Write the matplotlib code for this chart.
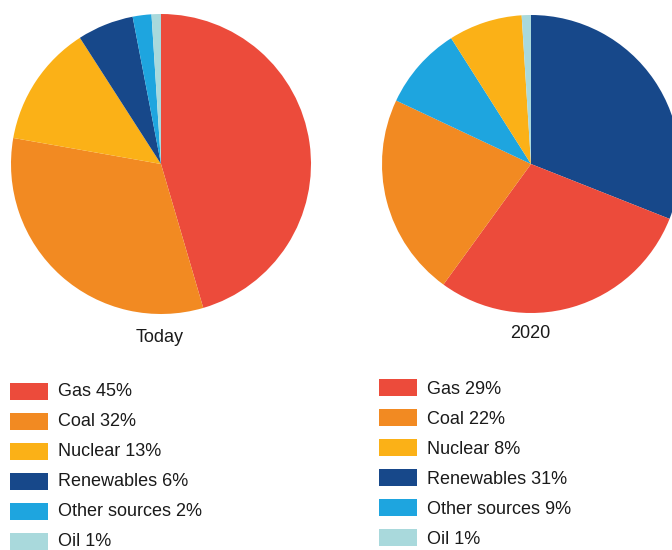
import matplotlib.pyplot as plt
from matplotlib.patches import Rectangle

# data
sources = ['Gas', 'Coal', 'Nuclear', 'Renewables', 'Other sources', 'Oil']
today = [45, 32, 13, 6, 2, 1]
y2020 = [29, 22, 8, 31, 9, 1]
colors = ['#EC4B3B', '#F28A22', '#FBB117', '#17488A', '#1EA5DF', '#A9D9DC']
titles = ['Today', '2020']

# clockwise order of the slices from 12 o'clock
order_today = [0, 1, 2, 3, 4, 5]
order_2020 = [3, 0, 1, 4, 2, 5]

plt.rcParams['font.family'] = ['Liberation Sans', 'DejaVu Sans']

fig = plt.figure(figsize=(6.72, 5.5), dpi=100)
ax = fig.add_axes([0, 0, 1, 1])

# pie centre, radius, title pos, legend top-left, legend text offset
panels = [
    (today, order_today, (161, 164), 150, (160, 338), (10, 383), 9),
    (y2020, order_2020, (531, 164), 149, (530, 333), (379, 379), 11),
]

for i, (vals, order, c, r, tpos, lpos, toff) in enumerate(panels):
    # pie in pixel coords, y axis flipped so clockwise/start angle flip too
    ax.pie([vals[k] for k in order], colors=[colors[k] for k in order],
           center=c, radius=r, startangle=-90, counterclock=True,
           wedgeprops=dict(linewidth=0), frame=True)
    ax.text(tpos[0], tpos[1], titles[i], ha='center', va='center', fontsize=13,
            color='#1a1a1a')
    # legend
    for j, name in enumerate(sources):
        y = lpos[1] + j * 30
        ax.add_patch(Rectangle((lpos[0], y), 38, 17, color=colors[j], lw=0))
        ax.text(lpos[0] + 48, y + toff, f'{name} {vals[j]}%', ha='left', va='center',
                fontsize=13, color='#1a1a1a')

ax.set_xlim(0, 672)
ax.set_ylim(550, 0)
ax.set_aspect('equal')
ax.axis('off')
fig.savefig('out.png', dpi=100)
